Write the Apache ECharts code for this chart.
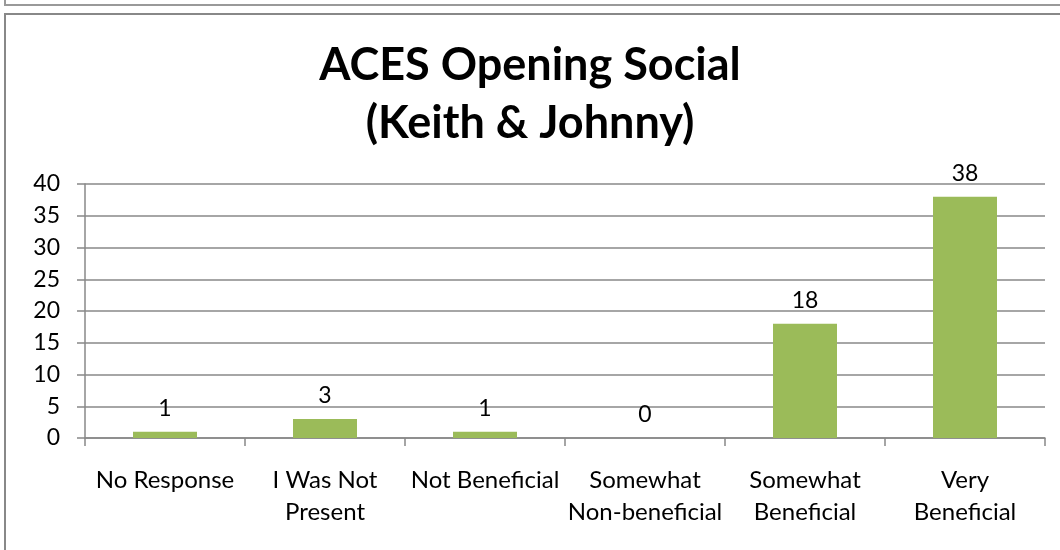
<!DOCTYPE html>
<html><head><meta charset="utf-8">
<script src="https://cdn.jsdelivr.net/npm/echarts@6/dist/echarts.min.js"></script>
<style>html,body{margin:0;padding:0;background:#fff}#c{width:1060px;height:550px}</style>
</head><body><div id="c"></div>
<script>
const titleLines = ['ACES Opening Social', '(Keith & Johnny)'];
const categories = ['No Response', 'I Was Not\nPresent', 'Not Beneficial', 'Somewhat\nNon-beneficial', 'Somewhat\nBeneficial', 'Very\nBeneficial'];
const values = [1, 3, 1, 0, 18, 38];
const yTicks = {min: 0, max: 40, interval: 5};

const font = 'Lato, "Open Sans", sans-serif';
const chart = echarts.init(document.getElementById('c'));
chart.setOption({
  backgroundColor: '#fff',
  animation: false,
  title: {
    text: titleLines.join('\n'),
    left: 'center', top: 31,
    textStyle: {fontFamily: font, fontWeight: 'bold', fontSize: 45, lineHeight: 58, color: '#000'}
  },
  graphic: [
    {type: 'rect', shape: {x: 5, y: 14, width: 1100, height: 600}, style: {fill: 'none', stroke: '#888', lineWidth: 2}},
    {type: 'polyline', shape: {points: [[5, 0], [5, 5], [1060, 5]]}, style: {fill: 'none', stroke: '#999', lineWidth: 2}}
  ],
  grid: {left: 85, right: 15, top: 184, bottom: 112, containLabel: false},
  xAxis: {
    type: 'category', data: categories,
    axisLine: {lineStyle: {color: '#888', width: 1.5}},
    axisTick: {show: true, length: 8, lineStyle: {color: '#888', width: 1.5}},
    axisLabel: {fontFamily: font, fontSize: 24, color: '#000', margin: 26, lineHeight: 32, interval: 0}
  },
  yAxis: {
    type: 'value', min: yTicks.min, max: yTicks.max, interval: yTicks.interval,
    axisLine: {show: true, lineStyle: {color: '#888', width: 1.5}},
    axisTick: {show: true, length: 8, lineStyle: {color: '#888', width: 1.5}},
    splitLine: {lineStyle: {color: '#888', width: 1.5}},
    axisLabel: {fontFamily: font, fontSize: 23, color: '#000', margin: 25}
  },
  series: [{
    type: 'bar', data: values, barWidth: 64,
    itemStyle: {color: '#9BBB59'},
    label: {show: true, position: 'top', distance: 12, fontFamily: font, fontSize: 23, color: '#000'}
  }]
});
</script></body></html>
